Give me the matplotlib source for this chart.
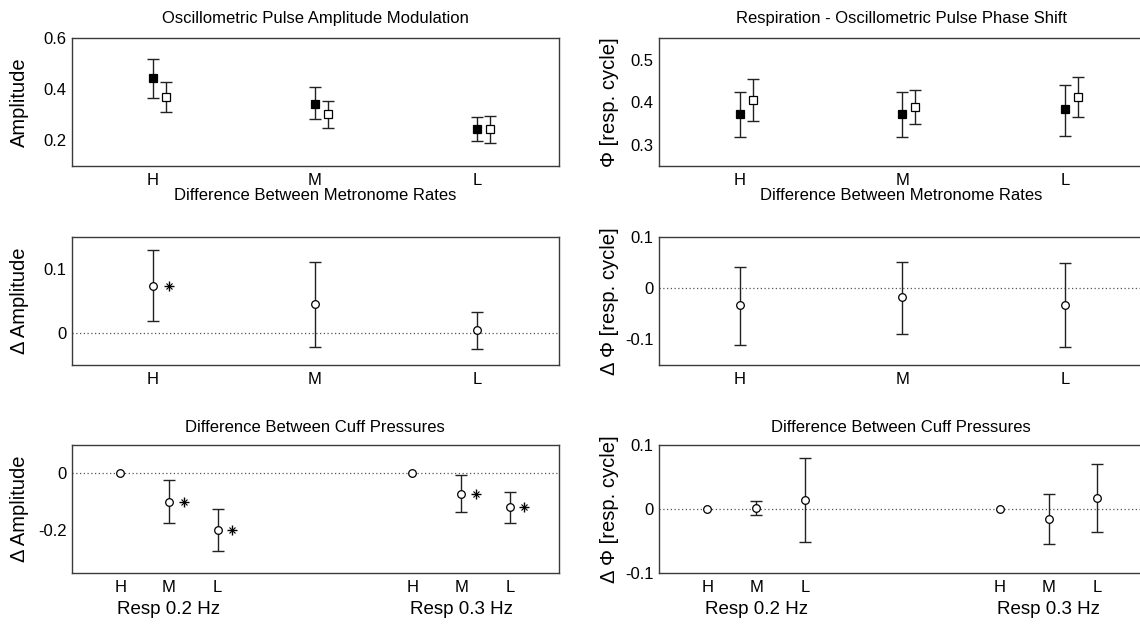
import matplotlib
matplotlib.use("Agg")
import matplotlib.pyplot as plt
import numpy as np

plt.rcParams['font.family'] = ['Liberation Sans', 'DejaVu Sans']

# ---------------- data ----------------
categories = ['H', 'M', 'L']
resp_groups = ['Resp 0.2 Hz', 'Resp 0.3 Hz']

amp_fill_mean = [0.445, 0.344, 0.243]
amp_fill_lo = [0.368, 0.283, 0.198]
amp_fill_hi = [0.520, 0.408, 0.290]
amp_open_mean = [0.372, 0.303, 0.244]
amp_open_lo = [0.313, 0.250, 0.191]
amp_open_hi = [0.430, 0.354, 0.294]

ph_fill_mean = [0.371, 0.371, 0.384]
ph_fill_lo = [0.318, 0.318, 0.320]
ph_fill_hi = [0.424, 0.425, 0.440]
ph_open_mean = [0.404, 0.389, 0.413]
ph_open_lo = [0.356, 0.349, 0.366]
ph_open_hi = [0.455, 0.429, 0.460]

damp_mean = [0.074, 0.045, 0.004]
damp_lo = [0.018, -0.022, -0.025]
damp_hi = [0.130, 0.111, 0.033]
damp_sig = [True, False, False]

dph_mean = [-0.034, -0.017, -0.034]
dph_lo = [-0.111, -0.089, -0.115]
dph_hi = [0.042, 0.051, 0.049]

cuff_amp02_mean = [0.0, -0.100, -0.200]
cuff_amp02_lo = [0.0, -0.175, -0.273]
cuff_amp02_hi = [0.0, -0.023, -0.124]
cuff_amp02_sig = [False, True, True]
cuff_amp03_mean = [0.0, -0.071, -0.117]
cuff_amp03_lo = [0.0, -0.137, -0.175]
cuff_amp03_hi = [0.0, -0.004, -0.064]
cuff_amp03_sig = [False, True, True]

cuff_ph02_mean = [0.0, 0.002, 0.014]
cuff_ph02_lo = [0.0, -0.010, -0.051]
cuff_ph02_hi = [0.0, 0.012, 0.079]
cuff_ph03_mean = [0.0, -0.015, 0.017]
cuff_ph03_lo = [0.0, -0.054, -0.036]
cuff_ph03_hi = [0.0, 0.023, 0.071]

# ---------------- style ----------------
W, H = 1140, 624
SPINE = '#3a3a3a'
EB = '#222222'
TICK_FS = 12
LAB_FS = 14.5
RESP_FS = 13.5
TITLE_FS = 12

fig = plt.figure(figsize=(W / 100, H / 100), dpi=100)


def make_ax(x0, top, x1, bot):
    ax = fig.add_axes([x0 / W, 1 - bot / H, (x1 - x0) / W, (bot - top) / H])
    for s in ax.spines.values():
        s.set_color(SPINE)
        s.set_linewidth(1.0)
    ax.tick_params(length=0, labelsize=TICK_FS, colors='black')
    ax.tick_params(axis='y', pad=3.5)
    ax.tick_params(axis='x', pad=5)
    return ax


def errs(ax, x, mean, lo, hi, marker, face, ms):
    x = np.asarray(x, float)
    mean = np.asarray(mean); lo = np.asarray(lo); hi = np.asarray(hi)
    has = hi > lo
    if has.any():
        ax.errorbar(x[has], mean[has], yerr=[mean[has] - lo[has], hi[has] - mean[has]],
                    fmt='none', ecolor=EB, elinewidth=1.0, capsize=4.2, capthick=1.0, zorder=2)
    ax.plot(x, mean, linestyle='none', marker=marker, markersize=ms,
            markerfacecolor=face, markeredgecolor='black', markeredgewidth=0.9, zorder=3)


def stars(ax, x, mean, sig, dx):
    for xi_, m, s in zip(x, mean, sig):
        if s:
            ax.plot(xi_ + dx, m, marker='+', markersize=7, color='black',
                    markeredgewidth=1.0, linestyle='none', zorder=3)
            ax.plot(xi_ + dx, m, marker='x', markersize=4.5, color='black',
                    markeredgewidth=0.8, linestyle='none', zorder=3)


def zero_line(ax):
    ax.axhline(0, color='#555555', linestyle=(0, (1, 2)), linewidth=0.9, zorder=1)


def title_at(ax_center_x, y_px, text):
    fig.text(ax_center_x / W, 1 - y_px / H, text, ha='center', va='center',
             fontsize=TITLE_FS)


LX0, LX1 = 71.5, 558.5
RX0, RX1 = 658.7, 1146.0
rows = [(38.3, 166.0), (237.0, 364.7), (445.0, 573.0)]
xi = np.arange(1, len(categories) + 1)
OPEN_DX = 0.08
LYL = (29 - LX0) / (LX1 - LX0)
RYL = (619 - RX0) / (RX1 - RX0)

# ---- top left ----
ax = make_ax(LX0, rows[0][0], LX1, rows[0][1])
errs(ax, xi, amp_fill_mean, amp_fill_lo, amp_fill_hi, 's', 'black', 5.5)
errs(ax, xi + OPEN_DX, amp_open_mean, amp_open_lo, amp_open_hi, 's', 'white', 5.5)
ax.set_xlim(0.5, 3.5); ax.set_ylim(0.1, 0.6)
ax.set_yticks([0.2, 0.4, 0.6]); ax.set_yticklabels(['0.2', '0.4', '0.6'])
ax.set_xticks(xi); ax.set_xticklabels(categories)
ax.set_ylabel('Amplitude', fontsize=LAB_FS)
ax.yaxis.set_label_coords(LYL, 0.5)
title_at((LX0 + LX1) / 2, 18, 'Oscillometric Pulse Amplitude Modulation')

# ---- top right ----
ax = make_ax(RX0, rows[0][0], RX1, rows[0][1])
errs(ax, xi, ph_fill_mean, ph_fill_lo, ph_fill_hi, 's', 'black', 5.5)
errs(ax, xi + OPEN_DX, ph_open_mean, ph_open_lo, ph_open_hi, 's', 'white', 5.5)
ax.set_xlim(0.5, 3.5); ax.set_ylim(0.25, 0.55)
ax.set_yticks([0.3, 0.4, 0.5]); ax.set_yticklabels(['0.3', '0.4', '0.5'])
ax.set_xticks(xi); ax.set_xticklabels(categories)
ax.set_ylabel('\u03a6 [resp. cycle]', fontsize=LAB_FS)
ax.yaxis.set_label_coords(RYL, 0.5)
title_at(901, 18, 'Respiration - Oscillometric Pulse Phase Shift')

# ---- middle left ----
ax = make_ax(LX0, rows[1][0], LX1, rows[1][1])
zero_line(ax)
errs(ax, xi, damp_mean, damp_lo, damp_hi, 'o', 'white', 5.5)
stars(ax, xi, damp_mean, damp_sig, 0.1)
ax.set_xlim(0.5, 3.5); ax.set_ylim(-0.05, 0.15)
ax.set_yticks([0, 0.1]); ax.set_yticklabels(['0', '0.1'])
ax.set_xticks(xi); ax.set_xticklabels(categories)
ax.set_ylabel('\u0394 Amplitude', fontsize=LAB_FS)
ax.yaxis.set_label_coords(LYL, 0.5)
title_at((LX0 + LX1) / 2, 195, 'Difference Between Metronome Rates')

# ---- middle right ----
ax = make_ax(RX0, rows[1][0], RX1, rows[1][1])
zero_line(ax)
errs(ax, xi, dph_mean, dph_lo, dph_hi, 'o', 'white', 5.5)
ax.set_xlim(0.5, 3.5); ax.set_ylim(-0.15, 0.1)
ax.set_yticks([-0.1, 0, 0.1]); ax.set_yticklabels(['-0.1', '0', '0.1'])
ax.set_xticks(xi); ax.set_xticklabels(categories)
ax.set_ylabel('\u0394 \u03a6 [resp. cycle]', fontsize=LAB_FS)
ax.yaxis.set_label_coords(RYL, 0.5)
title_at(901, 195, 'Difference Between Metronome Rates')

# ---- bottom rows ----
x02 = xi
x03 = xi + 6
STAR_DX = 0.3


def bottom_common(ax, ylab, label_x):
    ax.set_xlim(0, 10)
    ax.set_xticks(np.concatenate([x02, x03]))
    ax.set_xticklabels(categories + categories)
    ax.set_ylabel(ylab, fontsize=LAB_FS)
    ax.yaxis.set_label_coords(label_x, 0.5)
    for xc, g in zip([x02[1], x03[1]], resp_groups):
        ax.annotate(g, xy=(xc, 0), xycoords=('data', 'axes fraction'),
                    xytext=(0, -36), textcoords='offset pixels',
                    ha='center', va='center', fontsize=RESP_FS)


ax = make_ax(LX0, rows[2][0], LX1, rows[2][1])
zero_line(ax)
errs(ax, x02, cuff_amp02_mean, cuff_amp02_lo, cuff_amp02_hi, 'o', 'white', 5.5)
errs(ax, x03, cuff_amp03_mean, cuff_amp03_lo, cuff_amp03_hi, 'o', 'white', 5.5)
stars(ax, x02, cuff_amp02_mean, cuff_amp02_sig, STAR_DX)
stars(ax, x03, cuff_amp03_mean, cuff_amp03_sig, STAR_DX)
ax.set_ylim(-0.35, 0.1)
ax.set_yticks([-0.2, 0]); ax.set_yticklabels(['-0.2', '0'])
bottom_common(ax, '\u0394 Amplitude', LYL)
title_at((LX0 + LX1) / 2, 428, 'Difference Between Cuff Pressures')

ax = make_ax(RX0, rows[2][0], RX1, rows[2][1])
zero_line(ax)
errs(ax, x02, cuff_ph02_mean, cuff_ph02_lo, cuff_ph02_hi, 'o', 'white', 5.5)
errs(ax, x03, cuff_ph03_mean, cuff_ph03_lo, cuff_ph03_hi, 'o', 'white', 5.5)
ax.set_ylim(-0.1, 0.1)
ax.set_yticks([-0.1, 0, 0.1]); ax.set_yticklabels(['-0.1', '0', '0.1'])
bottom_common(ax, '\u0394 \u03a6 [resp. cycle]', RYL)
title_at(901, 428, 'Difference Between Cuff Pressures')

fig.savefig('out.png', dpi=100)
